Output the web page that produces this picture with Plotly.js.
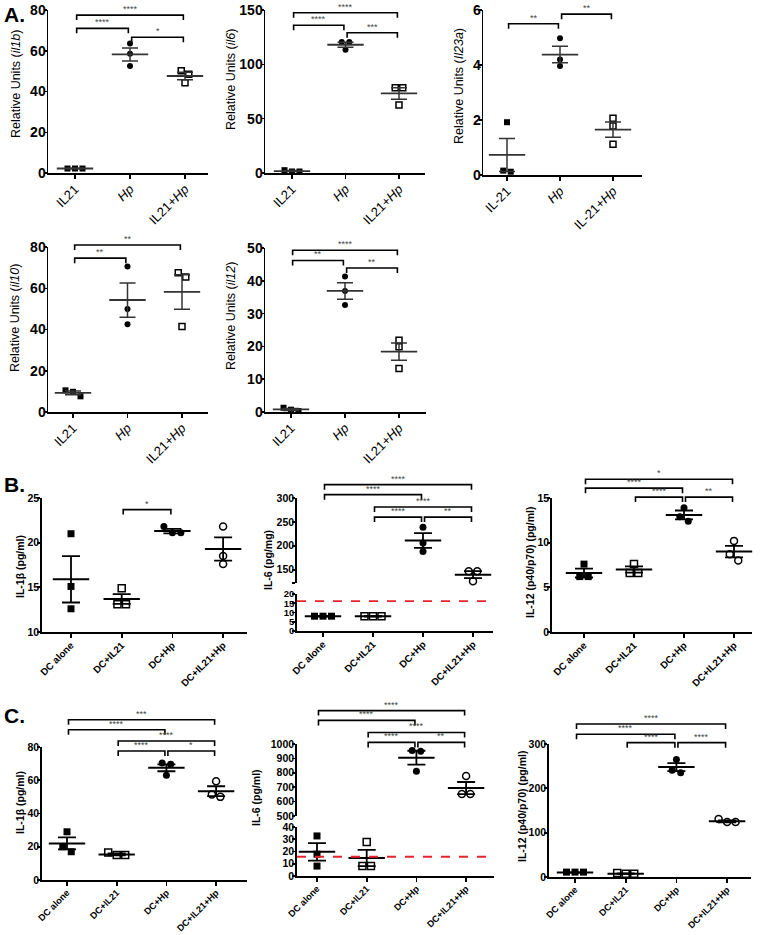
<!DOCTYPE html>
<html><head><meta charset="utf-8">
<script src="https://cdn.plot.ly/plotly-3.0.1.min.js"></script>
<style>html,body{margin:0;padding:0;background:#fff}</style>
</head><body><div id="chart" style="width:760px;height:935px"></div>
<script>
// ---------------- data ----------------
const catsA = ['IL21', '<i>Hp</i>', 'IL21+<i>Hp</i>'];
const catsA3 = ['IL-21', '<i>Hp</i>', 'IL-21+<i>Hp</i>'];
const catsBC = ['DC alone', 'DC+IL21', 'DC+Hp', 'DC+IL21+Hp'];

const il1bPts = [[2.2,2.2,2.2],[63.5,58.5,52.5],[50.2,48.5,44.3]];
const il1bMean = [2.2,58.2,47.6];
const il1bSem = [0.15,3.2,1.8];
const il1bSig = [[0,2,77.5,'****'],[0,1,71,'****'],[1,2,66.6,'*']];

const il6Pts = [[2.6,1.4,1.4],[120.5,120.5,113.5],[78.5,78.5,62.5]];
const il6Mean = [1.8,118,73.2];
const il6Sem = [0.4,2.3,5.3];
const il6Sig = [[0,2,147.5,'****'],[0,1,136,'****'],[1,2,129,'***']];

const il23aPts = [[1.92,0.12,0.16],[4.97,4.2,3.96],[2.06,1.78,1.12]];
const il23aMean = [0.73,4.38,1.65];
const il23aSem = [0.6,0.3,0.28];
const il23aSig = [[0,1,5.5,'**'],[1,2,5.85,'**']];

const il10Pts = [[10.5,7.6,9.8],[70.5,50,42.5],[67.5,65.5,41.5]];
const il10Mean = [9.3,54.3,58.2];
const il10Sem = [0.9,8.3,8.4];
const il10Sig = [[0,2,81,'**'],[0,1,74.6,'**']];

const il12Pts = [[1.3,0.3,0.7],[41.3,36.9,32.6],[21.9,19.9,13.3]];
const il12Mean = [0.77,36.9,18.4];
const il12Sem = [0.3,2.5,2.6];
const il12Sig = [[0,2,49.3,'****'],[0,1,46.2,'**'],[1,2,43.9,'**']];

const bIL1bPts = [[21,15.1,12.6],[14.9,13.1,13.1],[21.8,21.1,21.1],[21.8,18.5,17.6]];
const bIL1bMean = [15.9,13.7,21.3,19.3];
const bIL1bSem = [2.6,0.55,0.25,1.3];
const bIL1bSig = [[1,2,23.7,'*']];

const bIL6Pts = [[8,8,8],[8,8,8],[239,206,188],[146.5,146.5,125.5]];
const bIL6Mean = [8,8,211,139.5];
const bIL6Sem = [0.15,0.15,15.5,7.5];
const bIL6Sig = [[0,3,328,'****'],[0,2,307,'****'],[1,3,281,'****'],[1,2,260,'****'],[2,3,260,'**']];
const bIL6Lod = 16.2;

const bIL12Pts = [[7.6,6.2,6.2],[7.6,6.6,6.6],[13.9,12.9,12.4],[10.2,8.7,8.0]];
const bIL12Mean = [6.6,7.0,13.1,9.0];
const bIL12Sem = [0.5,0.35,0.5,0.65];
const bIL12Sig = [[0,3,17.1,'*'],[0,2,16.1,'****'],[1,2,15.1,'****'],[2,3,15.1,'**']];

const cIL1bPts = [[29,20,17],[16.6,15,15],[70.4,69.6,63],[59.4,51.4,50]];
const cIL1bMean = [22,15.4,67.5,53.4];
const cIL1bSem = [3.6,0.55,2.1,3.0];
const cIL1bSig = [[0,3,96.4,'***'],[0,2,90.4,'****'],[1,3,83.6,'****'],[1,2,77.6,'****'],[2,3,77.6,'*']];

const cIL6Pts = [[32.7,17.8,8.1],[27.8,8.1,8.1],[955,950,811],[777,652,652]];
const cIL6Mean = [19.7,14.7,905,694];
const cIL6Sem = [7.2,6.6,48,42];
const cIL6Sig = [[0,3,1232,'****'],[0,2,1164,'****'],[1,3,1080,'****'],[1,2,1011,'****'],[2,3,1011,'**']];
const cIL6Lod = 15.7;

const cIL12Pts = [[11,11,11],[9,7.5,7.5],[265,241,235],[131,124,124]];
const cIL12Mean = [10,7.5,248,125.5];
const cIL12Sem = [0.3,0.5,9,2.3];
const cIL12Sig = [[0,3,345,'****'],[0,2,322,'****'],[1,2,303,'****'],[2,3,303,'****']];

// ---------------- layout geometry ----------------
const FONT = 'Liberation Sans, Arial, sans-serif';
const W = 760, H = 935;
const fx = p => p / W, fy = p => 1 - p / H;

const panels = [
  {pts:il1bPts, mean:il1bMean, sem:il1bSem, sig:il1bSig, cats:catsA, kind:'A',
   title:'Relative Units (<i>il1b</i>)', tx:16, ty:84, x0:48, x1:208, c0:75, step:55,
   segs:[{top:10, bot:173, range:[0,80], tv:[0,20,40,60,80]}]},
  {pts:il6Pts, mean:il6Mean, sem:il6Sem, sig:il6Sig, cats:catsA, kind:'A',
   title:'Relative Units (<i>il6</i>)', tx:231, ty:80, x0:265, x1:425, c0:292, step:53.5,
   segs:[{top:10, bot:173, range:[0,150], tv:[0,50,100,150]}]},
  {pts:il23aPts, mean:il23aMean, sem:il23aSem, sig:il23aSig, cats:catsA3, kind:'A',
   title:'Relative Units (<i>Il23a</i>)', tx:459, ty:86, x0:483, x1:642, c0:507, step:53,
   segs:[{top:10, bot:175, range:[0,6], tv:[0,2,4,6]}]},
  {pts:il10Pts, mean:il10Mean, sem:il10Sem, sig:il10Sig, cats:catsA, kind:'A',
   title:'Relative Units (<i>il10</i>)', tx:15, ty:318, x0:48, x1:208, c0:73, step:54.5,
   segs:[{top:247, bot:412, range:[0,80], tv:[0,20,40,60,80]}]},
  {pts:il12Pts, mean:il12Mean, sem:il12Sem, sig:il12Sig, cats:catsA, kind:'A',
   title:'Relative Units (<i>il12</i>)', tx:231, ty:316, x0:265, x1:426, c0:291, step:54,
   segs:[{top:248, bot:412, range:[0,50], tv:[0,10,20,30,40,50]}]},
  {pts:bIL1bPts, mean:bIL1bMean, sem:bIL1bSem, sig:bIL1bSig, cats:catsBC, kind:'B',
   title:'IL-1β (pg/ml)', tx:20, ty:567, x0:42, x1:247, c0:71, step:50.7,
   segs:[{top:498, bot:632, range:[10,25], tv:[10,15,20,25]}]},
  {pts:bIL6Pts, mean:bIL6Mean, sem:bIL6Sem, sig:bIL6Sig, cats:catsBC, kind:'B', lod:bIL6Lod,
   title:'IL-6 (pg/mg)', tx:268, ty:560, x0:297, x1:493, c0:323, step:50,
   segs:[{top:498, bot:583, range:[122,300], tv:[122,150,200,250,300], tt:['','150','200','250','300']},
         {top:594, bot:631, range:[0,20], tv:[0,5,10,15,20]}]},
  {pts:bIL12Pts, mean:bIL12Mean, sem:bIL12Sem, sig:bIL12Sig, cats:catsBC, kind:'B',
   title:'IL-12 (p40/p70) (pg/ml)', tx:530, ty:563, x0:552, x1:752, c0:584, step:50,
   segs:[{top:498, bot:632, range:[0,15], tv:[0,5,10,15]}]},
  {pts:cIL1bPts, mean:cIL1bMean, sem:cIL1bSem, sig:cIL1bSig, cats:catsBC, kind:'C',
   title:'IL-1β (pg/ml)', tx:20, ty:803, x0:42, x1:247, c0:67, step:49.7,
   segs:[{top:747, bot:880, range:[0,80], tv:[0,20,40,60,80]}]},
  {pts:cIL6Pts, mean:cIL6Mean, sem:cIL6Sem, sig:cIL6Sig, cats:catsBC, kind:'C', lod:cIL6Lod,
   title:'IL-6 (pg/ml)', tx:256, ty:798, x0:297, x1:494, c0:317, step:49.7,
   segs:[{top:744, bot:816, range:[500,1000], tv:[500,600,700,800,900,1000]},
         {top:827, bot:876, range:[0,40], tv:[0,10,20,30,40]}]},
  {pts:cIL12Pts, mean:cIL12Mean, sem:cIL12Sem, sig:cIL12Sig, cats:catsBC, kind:'C',
   title:'IL-12 (p40/p70) (pg/ml)', tx:522, ty:807, x0:549, x1:751, c0:575, step:50.7,
   segs:[{top:744, bot:877, range:[0,300], tv:[0,100,200,300]}]}
];

const symA = ['square', 'circle', 'square-open'];
const symBC = ['square', 'square-open', 'circle', 'circle-open'];

const data = [];
const annotations = [];
const layout = {
  width: W, height: H, margin: {l:0, r:0, t:0, b:0}, showlegend: false,
  paper_bgcolor: '#fff', plot_bgcolor: 'rgba(0,0,0,0)',
  font: {family: FONT, color: '#000'}
};

let yCount = 0;
const nextY = () => { yCount++; return yCount === 1 ? '' : String(yCount); };

panels.forEach((p, pi) => {
  const xs = pi === 0 ? '' : String(pi + 1);
  const xid = 'x' + xs;
  const isA = p.kind === 'A';
  const ink = isA ? '#333' : '#000';
  const msize = isA ? 6 : 7;
  const lw = isA ? 1.5 : 1.8;

  // y axes for each segment (these carry the data traces)
  const segIds = p.segs.map((s, si) => {
    const ys = nextY();
    const tight = p.segs.length > 1 && si === p.segs.length - 1 && p.kind === 'B';
    layout['yaxis' + ys] = {
      domain: [fy(s.bot), fy(s.top)], range: s.range, anchor: xid,
      tickmode: 'array', tickvals: s.tv, ticktext: s.tt || s.tv.map(String),
      ticks: 'outside', ticklen: 3, tickwidth: lw, tickcolor: '#000',
      ticklabelstandoff: isA ? -5 : -4,
      showline: true, linewidth: lw, linecolor: '#000',
      showgrid: false, zeroline: false, fixedrange: true,
      tickfont: isA ? {family: FONT, size: 14, weight: 'bold', color: '#000'}
                    : {family: FONT, size: tight ? 9.5 : 10.5, weight: 'bold', color: '#000'}
    };
    return 'y' + ys;
  });
  // helper axis: same scale as the top segment, extended upwards for the brackets
  const s0 = p.segs[0];
  const ext = Math.min(s0.top, 60);
  const upp = (s0.range[1] - s0.range[0]) / (s0.bot - s0.top);
  const hs = nextY();
  const hid = 'y' + hs;
  layout['yaxis' + hs] = {
    domain: [fy(s0.bot), fy(s0.top - ext)],
    range: [s0.range[0], s0.range[1] + ext * upp],
    anchor: xid, visible: false, fixedrange: true, showgrid: false, zeroline: false
  };
  const lastSeg = p.segs.length - 1;
  layout['xaxis' + xs] = {
    domain: [fx(p.x0), fx(p.x1)],
    range: [(p.x0 - p.c0) / p.step, (p.x1 - p.c0) / p.step],
    anchor: segIds[lastSeg],
    tickmode: 'array', tickvals: p.cats.map((c, i) => i), ticktext: p.cats,
    tickangle: -45, ticks: 'outside', ticklen: 4, tickwidth: lw, tickcolor: '#000',
    ticklabelstandoff: -2,
    showline: true, linewidth: lw, linecolor: '#000',
    showgrid: false, zeroline: false, fixedrange: true,
    tickfont: isA ? {family: FONT, size: 13, color: '#000'}
                  : {family: FONT, size: p.kind === 'C' ? 9.2 : 9.8, weight: 'bold', color: '#000'}
  };

  const segOf = v => (p.segs.length > 1 && v < p.segs[0].range[0]) ? 1 : 0;
  const pxPerUnit = si => (p.segs[si].bot - p.segs[si].top) / (p.segs[si].range[1] - p.segs[si].range[0]);
  const syms = isA ? symA : symBC;

  // scatter points, spreading overlapping points sideways
  p.pts.forEach((vals, g) => {
    const order = vals.map((v, i) => i).sort((a, b) => vals[b] - vals[a]);
    const clusters = [];
    order.forEach((idx, k) => {
      const si = segOf(vals[idx]);
      if (k > 0) {
        const prev = order[k - 1];
        if (segOf(vals[prev]) === si && (vals[prev] - vals[idx]) * pxPerUnit(si) < msize) {
          clusters[clusters.length - 1].push(idx); return;
        }
      }
      clusters.push([idx]);
    });
    const xo = new Array(vals.length).fill(g);
    clusters.forEach(cl => {
      cl.forEach((idx, j) => { xo[idx] = g + (j - (cl.length - 1) / 2) * (msize + 1.5) / p.step; });
    });
    const sym = syms[g];
    const open = sym.indexOf('open') >= 0;
    p.segs.forEach((s, si) => {
      const idxs = vals.map((v, i) => i).filter(i => segOf(vals[i]) === si);
      if (!idxs.length) return;
      data.push({
        type: 'scatter', mode: 'markers', xaxis: xid, yaxis: segIds[si], cliponaxis: false,
        x: idxs.map(i => xo[i]), y: idxs.map(i => vals[i]), hoverinfo: 'skip',
        marker: {symbol: sym, size: msize, color: '#000', line: {width: open ? 1.5 : 0, color: '#000'}}
      });
    });
  });

  // means with SEM whiskers
  p.segs.forEach((s, si) => {
    const gs = p.mean.map((m, g) => g).filter(g => segOf(p.mean[g]) === si);
    if (!gs.length) return;
    data.push({
      type: 'scatter', mode: 'markers', xaxis: xid, yaxis: segIds[si], cliponaxis: false,
      x: gs, y: gs.map(g => p.mean[g]), hoverinfo: 'skip',
      marker: {symbol: 'line-ew', size: 26, color: ink, line: {width: isA ? 1.8 : 2, color: ink}},
      error_y: {type: 'data', array: gs.map(g => p.sem[g]), visible: true,
                width: isA ? 8 : 9, thickness: isA ? 1.5 : 1.8, color: ink}
    });
  });

  // significance brackets
  const d = 5 * upp, gap = 0.03;
  const bx = [], by = [];
  p.sig.forEach(([a, b, lev, lab]) => {
    const xa = a + gap, xb = b - gap;
    bx.push(xa, xa, xb, xb, null);
    by.push(lev - d, lev, lev, lev - d, null);
    annotations.push({
      xref: xid, yref: hid, x: (a + b) / 2, y: lev, yanchor: 'bottom', yshift: -1,
      text: lab, showarrow: false, font: {family: FONT, size: 9, color: '#444'}
    });
  });
  data.push({type: 'scatter', mode: 'lines', xaxis: xid, yaxis: hid, x: bx, y: by,
             hoverinfo: 'skip', line: {color: '#000', width: 1.6}});

  // limit of detection line
  if (p.lod !== undefined) {
    const xr = layout['xaxis' + xs].range;
    data.push({type: 'scatter', mode: 'lines', xaxis: xid, yaxis: segIds[lastSeg],
               x: [xr[0], xr[1]], y: [p.lod, p.lod], hoverinfo: 'skip',
               line: {color: '#e8232a', width: 1.8, dash: 'dash'}});
  }

  // y-axis title
  annotations.push({
    xref: 'paper', yref: 'paper', x: fx(p.tx), y: fy(p.ty), xanchor: 'center', yanchor: 'middle',
    textangle: -90, text: p.title, showarrow: false,
    font: isA ? {family: FONT, size: 12.5, color: '#000'} : {family: FONT, size: 10.5, weight: 'bold', color: '#000'}
  });
});

// panel letters
[['A.', 15], ['B.', 485], ['C.', 715]].forEach(([t, py]) => {
  annotations.push({xref: 'paper', yref: 'paper', x: fx(2), y: fy(py), xanchor: 'left', yanchor: 'middle',
    text: '<b>' + t + '</b>', showarrow: false, font: {family: FONT, size: 21, color: '#000'}});
});

layout.annotations = annotations;
Plotly.newPlot('chart', data, layout, {staticPlot: true, displayModeBar: false});
</script></body></html>
